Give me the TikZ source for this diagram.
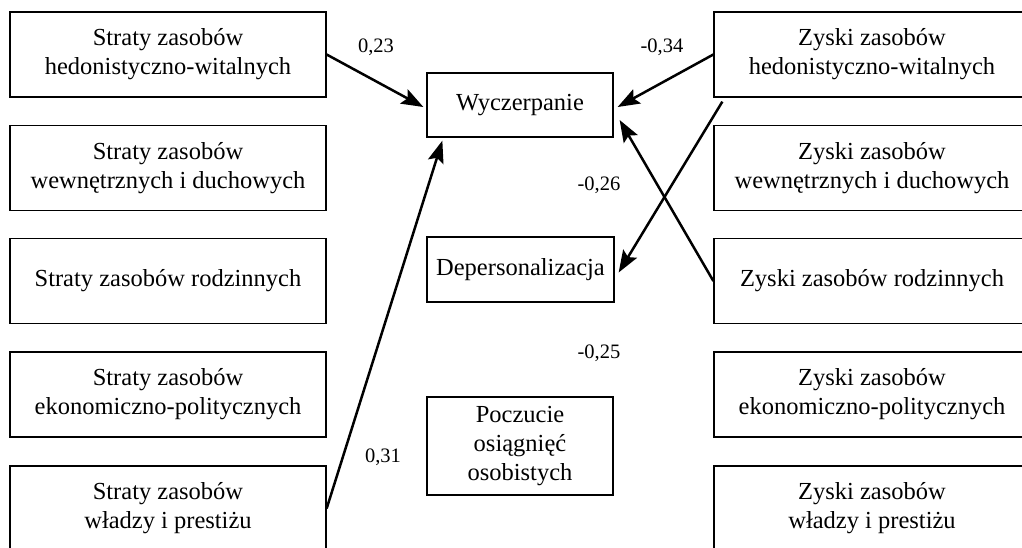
\documentclass[tikz,border=0pt]{standalone}
\usepackage{fontspec}
\setmainfont{Liberation Serif}
\usetikzlibrary{arrows.meta,calc}
\begin{document}
\begin{tikzpicture}[x=1pt,y=-1pt,
  box/.style={draw, line width=1.3pt, align=center, inner sep=0pt,
    font=\fontsize{24.5}{29}\selectfont},
  side/.style={box, minimum width=316pt, minimum height=85pt},
  lbl/.style={font=\fontsize{20.5}{24}\selectfont, inner sep=0pt},
  arr/.style={line width=2.5pt, -{Stealth[length=22pt,width=16pt,inset=4pt]}}]
\clip (0,0) rectangle (1022,547);
% left column
\node[side] (L1) at (168,54.5) {Straty zasobów\\hedonistyczno-witalnych};
\node[side] (L2) at (168,168) {Straty zasobów\\wewnętrznych i duchowych};
\node[side] (L3) at (168,281) {Straty zasobów rodzinnych};
\node[side] (L4) at (168,394.5) {Straty zasobów\\ekonomiczno-politycznych};
\node[side] (L5) at (168,508.5) {Straty zasobów\\władzy i prestiżu};
% right column
\node[side] (R1) at (872,54.5) {Zyski zasobów\\hedonistyczno-witalnych};
\node[side] (R2) at (872,168) {Zyski zasobów\\wewnętrznych i duchowych};
\node[side] (R3) at (872,281) {Zyski zasobów rodzinnych};
\node[side] (R4) at (872,394.5) {Zyski zasobów\\ekonomiczno-politycznych};
\node[side] (R5) at (872,508.5) {Zyski zasobów\\władzy i prestiżu};
% centre
\node[box, minimum width=186pt, minimum height=64pt] (W) at (520,105) {Wyczerpanie};
\node[box, minimum width=187pt, minimum height=65pt] (D) at (520.5,269.5) {Depersonalizacja};
\node[box, minimum width=186pt, minimum height=98pt] (P) at (520,446) {Poczucie\\osiągnięć\\osobistych};
% connector end points
\coordinate (s3) at ($(R1.south west)+(9,4)$);
\coordinate (t4) at ($(W.east)+(6,15)$);
\coordinate (t5) at ($(W.south west)+(16,3)$);
% arrows
\draw[arr] (L1.east) -- ($(W.west)+(-3,2)$);
\draw[arr] (R1.west) -- ($(W.east)+(4,2)$);
\draw[arr] (s3) -- ($(D.east)+(4,3)$);
\draw[arr] (R3.west) -- (t4);
\draw[arr] (L5.east) -- (t5);
% labels
\node[lbl] (a) at (376,47) {0,23};
\node[lbl] (b) at (662,47) {-0,34};
\node[lbl] (c) at (599,185) {-0,26};
\node[lbl] (d) at (599,353) {-0,25};
\node[lbl] (e) at (383,457) {0,31};
\end{tikzpicture}
\end{document}
